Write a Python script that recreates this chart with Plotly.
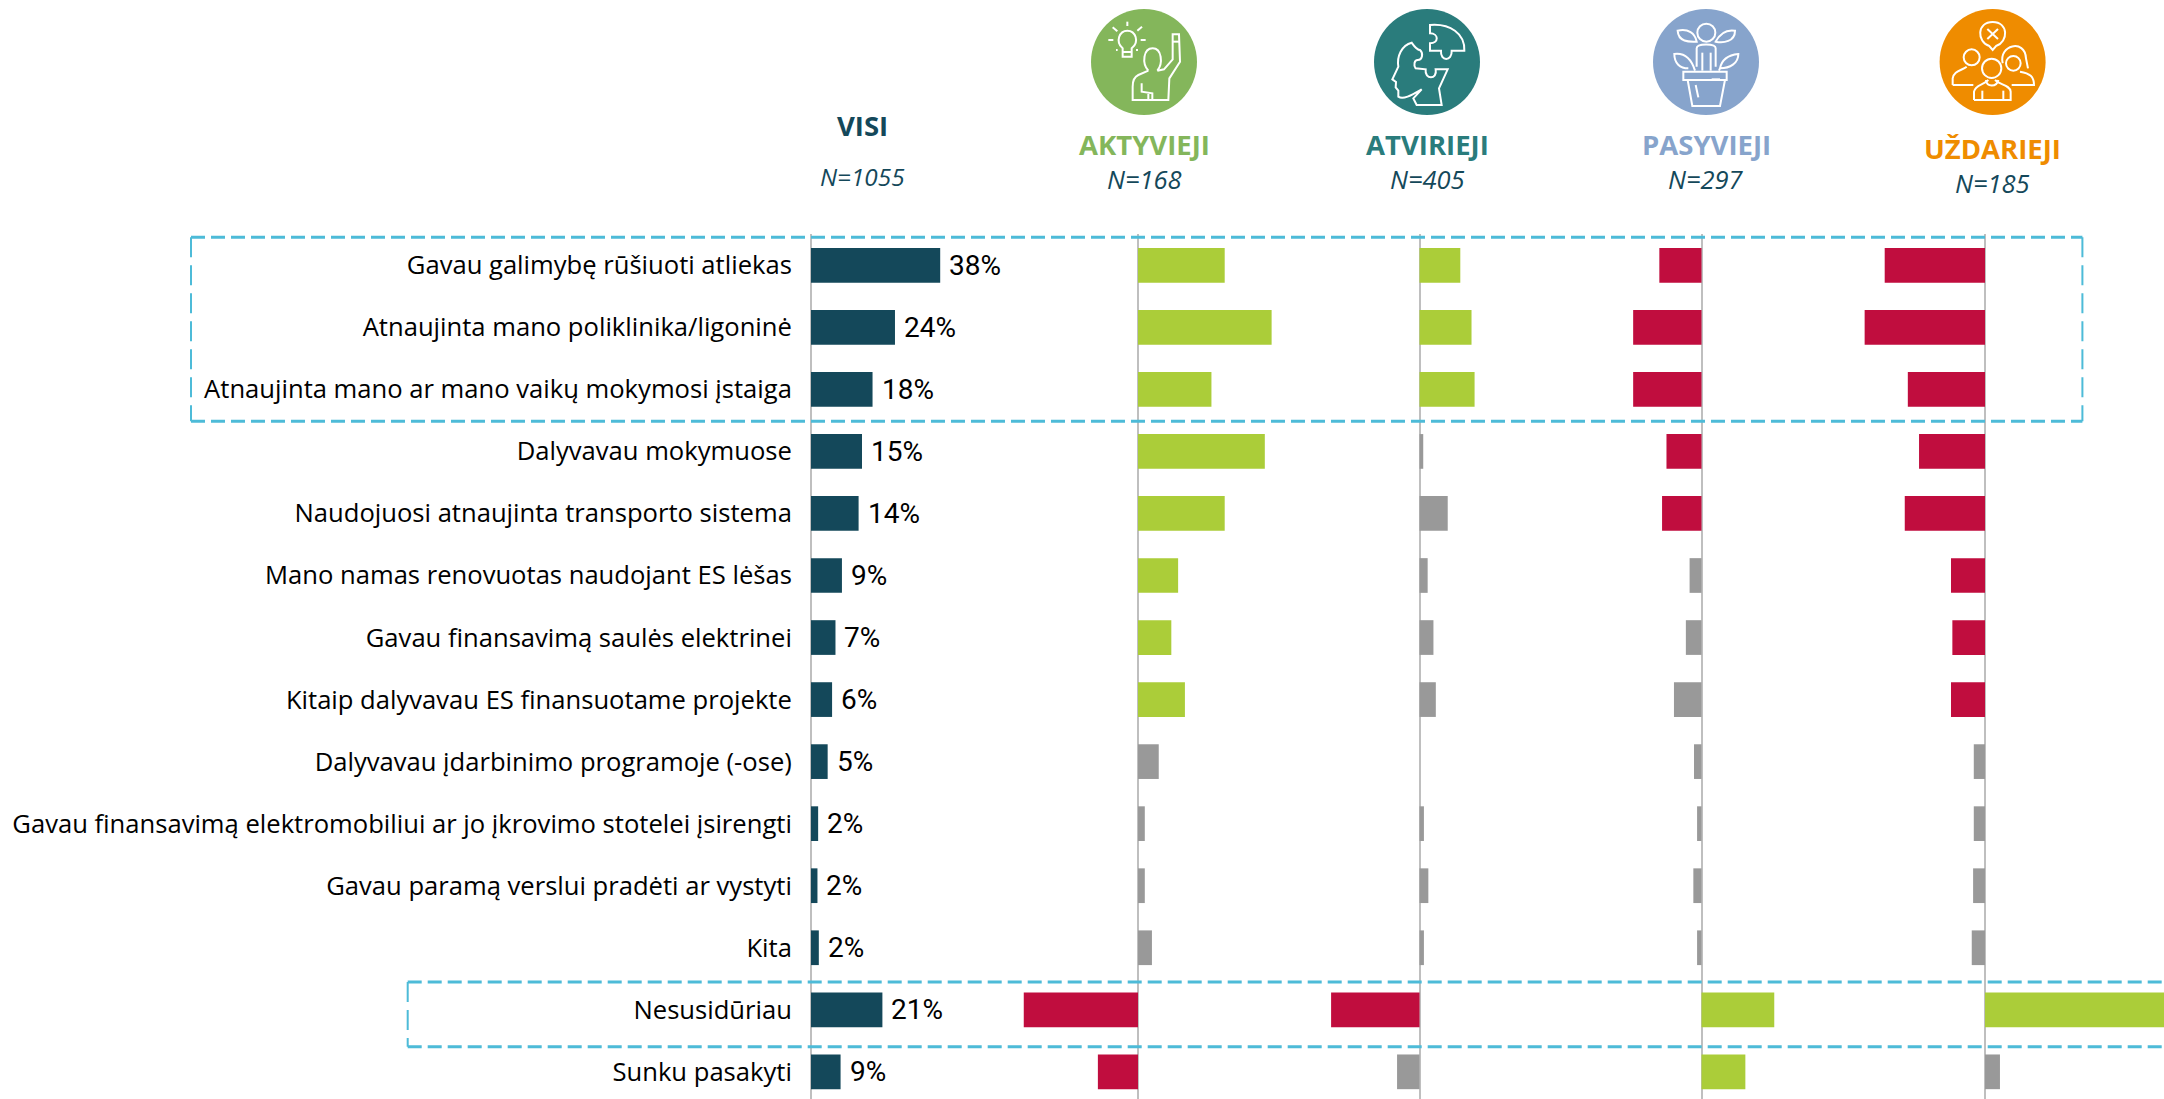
import re
import plotly.graph_objects as go

W, H = 2164, 1099
categories = ["Gavau galimybę rūšiuoti atliekas", "Atnaujinta mano poliklinika/ligoninė",
              "Atnaujinta mano ar mano vaikų mokymosi įstaiga", "Dalyvavau mokymuose",
              "Naudojuosi atnaujinta transporto sistema", "Mano namas renovuotas naudojant ES lėšas",
              "Gavau finansavimą saulės elektrinei", "Kitaip dalyvavau ES finansuotame projekte",
              "Dalyvavau įdarbinimo programoje (-ose)",
              "Gavau finansavimą elektromobiliui ar jo įkrovimo stotelei įsirengti",
              "Gavau paramą verslui pradėti ar vystyti", "Kita", "Nesusidūriau", "Sunku pasakyti"]
visi = [38, 24.7, 18.1, 15, 14, 9.1, 7.2, 6.2, 4.9, 2.1, 1.9, 2.3, 21, 8.7]
visi_labels = ["38%", "24%", "18%", "15%", "14%", "9%", "7%", "6%", "5%", "2%", "2%", "2%", "21%", "9%"]
aktyvieji = [25.5, 39.3, 21.6, 37.3, 25.5, 11.8, 9.8, 13.8, 6.1, 2.0, 2.0, 4.1, -33.6, -11.8]
atvirieji = [12, 15.3, 16.2, 1.1, 8.3, 2.4, 4.1, 4.8, 0, 1.3, 2.6, 1.3, -26, -6.6]
pasyvieji = [-12.4, -20.1, -20.1, -10.3, -11.6, -3.5, -4.6, -8.1, -2.2, -1.3, -2.4, -1.3, 21.4, 12.9]
uzdarieji = [-29.5, -35.4, -22.7, -19.4, -23.6, -10, -9.6, -10, -3.3, -3.3, -3.5, -3.9, 56, 4.4]
gray_a = [8, 9, 10, 11]
gray_b = [3, 4, 5, 6, 7, 8, 9, 10, 11, 13]
gray_c = [5, 6, 7, 8, 9, 10, 11]
gray_d = [8, 9, 10, 11, 13]

GREEN, RED, GRAY, DARK = "#ABCD39", "#C00D3E", "#999999", "#14485A"
PPP = 3.4  # px per percentage point
ROW, Y0, TOP = 62.04, 265.3, 234
BAR_H = 34.7

zero_px = [811, 1138, 1419.5, 1701.5, 1985]
fig = go.Figure()

def cols(vals, gray):
    return [GRAY if i in gray else (GREEN if v > 0 else RED) for i, v in enumerate(vals)]

series = [(visi, [DARK] * 14), (aktyvieji, cols(aktyvieji, gray_a)), (atvirieji, cols(atvirieji, gray_b)),
          (pasyvieji, cols(pasyvieji, gray_c)), (uzdarieji, cols(uzdarieji, gray_d))]
for i, (vals, c) in enumerate(series):
    fig.add_bar(x=vals, y=categories, orientation="h", marker_color=c, marker_line_width=0,
                width=BAR_H / ROW, xaxis="x" if i == 0 else f"x{i+1}", yaxis="y",
                showlegend=False, hoverinfo="skip")

layout = dict(width=W, height=H, margin=dict(l=0, r=0, t=0, b=0), paper_bgcolor="white", plot_bgcolor="white",
              showlegend=False, font=dict(family="Open Sans", color="#000000"))
for i, z in enumerate(zero_px):
    key = "xaxis" if i == 0 else f"xaxis{i+1}"
    ax = dict(domain=[0, 1], range=[-z / PPP, (W - z) / PPP], showgrid=False, showticklabels=False, ticks="",
              zeroline=True, zerolinecolor="#BFBFBF", zerolinewidth=1.5, anchor="y", showline=False)
    if i:
        ax["overlaying"] = "x"
    layout[key] = ax
layout["yaxis"] = dict(domain=[0, 1 - TOP / H], type="category", categoryorder="array", categoryarray=categories,
                       range=[(H - Y0) / ROW, (TOP - Y0) / ROW], anchor="free", position=zero_px[0] / W,
                       showgrid=False, zeroline=False, showline=False, ticks="outside", ticklen=14,
                       tickcolor="rgba(0,0,0,0)", tickfont=dict(family="Open Sans", size=25.6, color="#000000"))
fig.update_layout(**layout)

for v, c, t in zip(visi, categories, visi_labels):
    fig.add_annotation(x=v, y=c, xref="x", yref="y", text=t, showarrow=False, xanchor="left", xshift=7,
                       font=dict(family="Roboto", size=28, color="#000000"))

def px(x): return x / W
def py(y): return 1 - y / H
BLUE = "#4DBBD8"
def box(l, t, r, b, right=True):
    hz = dict(color=BLUE, width=3, dash="14px,6px")
    vt = dict(color=BLUE, width=2, dash="20px,8px")
    fig.add_shape(type="line", xref="paper", yref="paper", x0=px(l), x1=px(r), y0=py(t), y1=py(t), line=hz)
    fig.add_shape(type="line", xref="paper", yref="paper", x0=px(l), x1=px(r), y0=py(b), y1=py(b), line=hz)
    fig.add_shape(type="line", xref="paper", yref="paper", x0=px(l), x1=px(l), y0=py(t), y1=py(b), line=vt)
    if right:
        fig.add_shape(type="line", xref="paper", yref="paper", x0=px(r), x1=px(r), y0=py(t), y1=py(b), line=vt)
box(191, 237.3, 2082.4, 421.3)
box(407.7, 982, W + 5, 1046.7, right=False)

def note(x, y, text, size, color, bold=False, italic=False):
    fig.add_annotation(xref="paper", yref="paper", x=px(x), y=py(y), text=f"<b>{text}</b>" if bold else text,
                       showarrow=False, xanchor="center", yanchor="middle",
                       font=dict(family="Open Sans", size=size, color=color, style="italic" if italic else "normal"))
headers = [("VISI", 862, 126, DARK, "N=1055", 177, 24.3), ("AKTYVIEJI", 1144, 144, "#84B65B", "N=168", 179, 25.5),
           ("ATVIRIEJI", 1427, 144, "#2A7C7C", "N=405", 179, 25.5), ("PASYVIEJI", 1706, 144, "#87A4CC", "N=297", 179, 25.5),
           ("UŽDARIEJI", 1992.6, 149, "#EF8C00", "N=185", 183, 25.5)]
for t, x, y, c, n, ny, ns in headers:
    note(x, y, t, 27.5, c, bold=True)
    note(x, ny, n, ns, DARK, italic=True)
for x, c in [(1144, "#84B65B"), (1427, "#2A7C7C"), (1706, "#87A4CC"), (1992.6, "#EF8C00")]:
    fig.add_shape(type="circle", xref="paper", yref="paper", x0=px(x - 53), x1=px(x + 53), y0=py(62 - 53), y1=py(62 + 53),
                  fillcolor=c, line_width=0, layer="below")

# Line icons, drawn in the 3x coordinates of a 130x125 box whose left edge is ox
def icon_path(ox, d):
    toks = re.findall(r"[MLCQZ]|-?\d+\.?\d*", d)
    out, isx = [], True
    for t in toks:
        if t in "MLCQZ":
            out.append(t); isx = True
        else:
            v = float(t) / 3
            out.append(f"{px(ox + v):.5f}" if isx else f"{py(v):.5f}")
            isx = not isx
    return " ".join(out)

def circ(cx, cy, r):
    k = 0.55 * r
    return (f"M{cx-r} {cy} C{cx-r} {cy-k} {cx-k} {cy-r} {cx} {cy-r} C{cx+k} {cy-r} {cx+r} {cy-k} {cx+r} {cy} "
            f"C{cx+r} {cy+k} {cx+k} {cy+r} {cx} {cy+r} C{cx-k} {cy+r} {cx-r} {cy+k} {cx-r} {cy} Z")

icons = {
    1080: ["M128 145 C105 125 118 92 142 92 C166 92 180 125 155 145 L155 170 L128 170 Z", "M128 156 L155 156",
           "M142 65 L142 78", "M98 82 L112 94", "M186 80 L172 92", "M85 120 L100 120", "M182 120 L197 120",
           "M108 150 L113 150", "M168 150 L174 150",
           "M205 212 C185 190 190 145 218 145 C245 145 250 190 232 212",
           "M205 212 L175 225 C160 232 158 245 158 260 L158 300 L265 300 L268 235 L300 185 L297 103 L278 103 L278 178 L252 208 L232 212",
           "M278 125 L298 125", "M185 250 L185 275 L217 280 L217 300", "M205 282 L205 300"],
    1365: ["M140 128 C110 135 95 170 100 200 L82 238 L93 246 L92 262 L100 272 L100 290 C115 300 140 285 170 268 L145 295 "
           "L155 315 L230 315 L222 265 L248 208 L212 208 C218 240 178 240 182 208 L152 205 C145 195 148 180 158 180 "
           "C172 180 176 160 165 150 C155 150 145 135 140 128 Z",
           "M195 75 C255 70 300 100 298 152 L260 152 C262 185 225 185 228 152 L195 152 L195 130 C222 130 222 100 195 100 Z"],
    1645: [circ(184, 98, 27), "M155 200 L155 145 C155 130 212 130 212 145 L212 200", "M172 158 L172 212", "M197 158 L197 212",
           "M155 125 C140 125 100 130 98 92 C130 85 150 100 155 125 Z", "M212 125 C225 100 245 88 270 92 C270 125 235 130 212 125 Z",
           "M130 205 C105 205 88 190 88 162 C120 158 140 180 150 212", "M225 205 C230 180 250 165 280 162 C280 190 255 205 225 205 L222 212",
           "M125 215 L245 215 L245 240 L115 240 L115 215 L125 215", "M128 240 L142 318 L225 318 L240 240",
           "M152 255 L160 292", "M200 238 L225 238"],
    1930: ["M178 138 C140 125 140 66 188 66 C236 66 236 125 198 138 L188 150 Z", "M172 87 L204 117", "M204 87 L172 117",
           circ(125, 172, 24), "M68 255 L68 235 C72 212 95 212 110 200", "M68 255 L130 255",
           "M218 190 C205 135 285 115 288 175 L294 205", "M270 215 C300 220 312 230 312 255 L245 255", circ(250, 190, 22),
           circ(185, 205, 29), "M132 300 L132 275 C135 255 160 255 175 240", "M195 240 C210 255 240 255 242 275 L242 300 L132 300",
           "M157 272 L157 300", "M220 272 L220 300", "M168 240 C170 262 200 262 205 240"],
}
for ox, paths in icons.items():
    for d in paths:
        fig.add_shape(type="path", xref="paper", yref="paper", path=icon_path(ox, d),
                      line=dict(color="white", width=2), fillcolor="rgba(0,0,0,0)")

fig.write_html("out.html", config={"displayModeBar": False}, post_script="document.body.style.margin='0';")
